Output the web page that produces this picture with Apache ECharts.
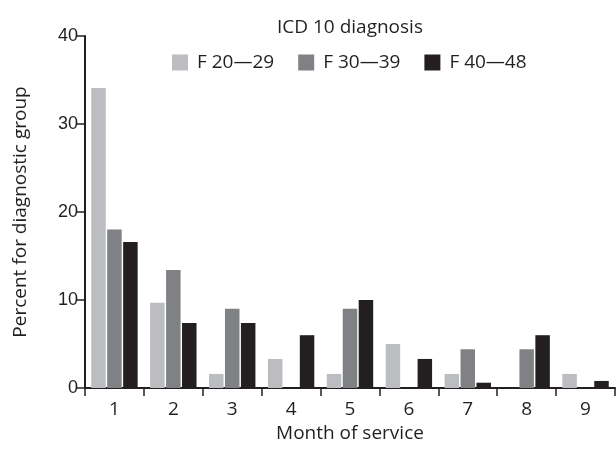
<!DOCTYPE html>
<html>
<head>
<meta charset="utf-8">
<script src="https://cdn.jsdelivr.net/npm/echarts@6/dist/echarts.min.js"></script>
<style>
  html, body { margin: 0; padding: 0; background: #ffffff; }
  #chart { width: 616px; height: 454px; }
</style>
</head>
<body>
<div id="chart"></div>
<script>
// Months of service on the x axis
const months = ['1', '2', '3', '4', '5', '6', '7', '8', '9'];

// Percent of each ICD-10 diagnostic group per month
const seriesNames = ['F 20\u201429', 'F 30\u201439', 'F 40\u201448'];
const f20to29 = [34.1, 9.7, 1.6, 3.3, 1.6, 5.0, 1.6, 0, 1.6];
const f30to39 = [18.0, 13.4, 9.0, 0, 9.0, 0, 4.4, 4.4, 0];
const f40to48 = [16.6, 7.4, 7.4, 6.0, 10.0, 3.3, 0.6, 6.0, 0.8];

// y axis ticks
const yTicks = [0, 10, 20, 30, 40];

const ink = '#231f20';
const colors = ['#bcbdc0', '#808184', '#231f20'];
const humanist = '"Open Sans", "Noto Sans", sans-serif';

const chart = echarts.init(document.getElementById('chart'), null, { renderer: 'canvas' });

const values = [f20to29, f30to39, f40to48];

chart.setOption({
  animation: false,
  backgroundColor: '#ffffff',
  color: colors,
  title: {
    text: 'ICD 10 diagnosis',
    left: 272,
    top: 13,
    textStyle: { fontFamily: humanist, fontSize: 19, fontWeight: 'normal', color: ink }
  },
  legend: {
    data: seriesNames,
    left: 167,
    top: 48,
    itemWidth: 16,
    itemHeight: 16,
    itemGap: 24,
    icon: 'rect',
    textStyle: { fontFamily: humanist, fontSize: 19, color: ink, padding: [0, 0, 0, 4] }
  },
  grid: { left: 85, right: 1, top: 36, bottom: 66, containLabel: false },
  xAxis: {
    type: 'category',
    data: months,
    boundaryGap: true,
    name: 'Month of service',
    nameLocation: 'middle',
    nameGap: 34,
    nameTextStyle: { fontFamily: humanist, fontSize: 19, color: ink },
    axisLine: { show: true, lineStyle: { color: ink, width: 2 } },
    axisTick: { show: true, length: 8, lineStyle: { color: ink, width: 1.5 }, alignWithLabel: false },
    axisLabel: { margin: 12, fontFamily: humanist, fontSize: 19, color: ink },
    splitLine: { show: false }
  },
  yAxis: {
    type: 'value',
    min: yTicks[0],
    max: yTicks[yTicks.length - 1],
    interval: 10,
    name: 'Percent for diagnostic group',
    nameLocation: 'middle',
    nameRotate: 90,
    nameGap: 55,
    nameTextStyle: { fontFamily: humanist, fontSize: 19, color: ink },
    axisLine: { show: true, lineStyle: { color: ink, width: 2 } },
    axisTick: { show: true, length: 8, lineStyle: { color: ink, width: 1.5 } },
    axisLabel: { margin: 7, fontFamily: '"Liberation Sans", Arial, sans-serif', fontSize: 18, color: ink },
    splitLine: { show: false }
  },
  series: seriesNames.map((name, i) => ({
    name: name,
    type: 'bar',
    data: values[i],
    barWidth: 14.5,
    barGap: '10%',
    itemStyle: { color: colors[i] }
  }))
});
</script>
</body>
</html>
